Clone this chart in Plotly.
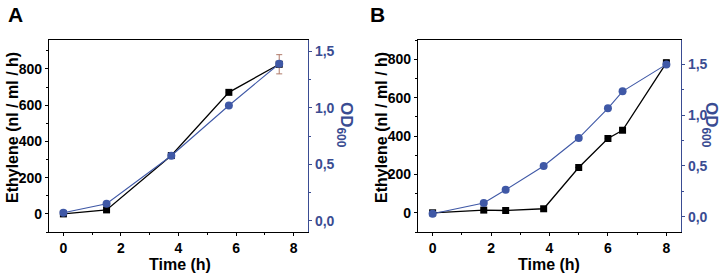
import plotly.graph_objects as go

# Panel A data
a_time_eth = [0, 1.5, 3.75, 5.75, 7.5]
a_eth = [0, 22, 322, 671, 826]
a_eth_err = [0, 0, 0, 0, 53]
a_time_od = [0, 1.5, 3.75, 5.75, 7.5]
a_od = [0.07, 0.15, 0.575, 1.02, 1.39]

# Panel B data
b_time_eth = [0, 1.75, 2.5, 3.8, 5.0, 6.0, 6.5, 8.0]
b_eth = [0, 14, 12, 21, 236, 387, 430, 781]
b_eth_err = [0, 0, 0, 0, 0, 0, 0, 15]
b_time_od = [0, 1.75, 2.5, 3.8, 5.0, 6.0, 6.5, 8.0]
b_od = [0.03, 0.135, 0.265, 0.5, 0.775, 1.068, 1.235, 1.5]

x_ticks = [0, 2, 4, 6, 8]
eth_ticks = [0, 200, 400, 600, 800]
od_ticks = [0.0, 0.5, 1.0, 1.5]
od_ticktext = ["0,0", "0,5", "1,0", "1,5"]

BLUE = "#3F58A6"
BLUE_AX = "#3A4C92"
FONT = "Liberation Sans, Arial, sans-serif"

fig = go.Figure()

def add_panel(tx_e, e, err, err_color, tx_o, o, xa, ya, ya2):
    fig.add_trace(go.Scatter(
        x=tx_e, y=e, mode="lines+markers", xaxis=xa, yaxis=ya,
        line=dict(color="black", width=1.3),
        marker=dict(symbol="square", size=7, color="black"),
        error_y=dict(type="data", array=err, visible=True, color=err_color,
                     thickness=1, width=3),
        showlegend=False))
    fig.add_trace(go.Scatter(
        x=tx_o, y=o, mode="lines+markers", xaxis=xa, yaxis=ya2,
        line=dict(color=BLUE, width=1.1),
        marker=dict(symbol="circle", size=8, color=BLUE),
        showlegend=False))

add_panel(a_time_eth, a_eth, a_eth_err, "#B07A6A", a_time_od, a_od, "x", "y", "y2")
add_panel(b_time_eth, b_eth, b_eth_err, "black", b_time_od, b_od, "x2", "y3", "y4")

W, H = 721, 274
def dx(p): return p / W
def dy(p): return 1 - p / H

tickfont = dict(family=FONT, size=14, color="black", weight="bold")
tickfont_b = dict(family=FONT, size=14, color=BLUE_AX, weight="bold")

def xaxis_cfg(l, r, anchor):
    return dict(domain=[dx(l), dx(r)], anchor=anchor, range=[-0.5, 8.5],
                tickvals=x_ticks, ticks="outside", ticklen=3, tickwidth=1,
                tickcolor="black", showline=True, linecolor="black", linewidth=1.3,
                mirror=True, showgrid=False, zeroline=False, tickfont=tickfont,
                minor=dict(dtick=1, tick0=0, ticks="outside", ticklen=2,
                           tickcolor="black", showgrid=False))

def yaxis_cfg(rng, anchor):
    return dict(domain=[dy(232), dy(40)], anchor=anchor, range=rng,
                tickvals=eth_ticks, ticks="outside", ticklen=3, tickwidth=1,
                tickcolor="black", showline=True, linecolor="black", linewidth=1.3,
                showgrid=False, zeroline=False, tickfont=tickfont,
                minor=dict(dtick=100, tick0=0, ticks="outside", ticklen=2,
                           tickcolor="black", showgrid=False))

def y2axis_cfg(rng, anchor, overlay):
    return dict(range=rng, anchor=anchor, overlaying=overlay, side="right",
                tickvals=od_ticks, ticktext=od_ticktext, ticks="outside",
                ticklen=3, tickwidth=1, tickcolor=BLUE_AX, showline=True,
                linecolor=BLUE_AX, linewidth=1.3, showgrid=False, zeroline=False,
                tickfont=tickfont_b,
                minor=dict(dtick=0.25, tick0=0, ticks="outside", ticklen=2,
                           tickcolor=BLUE_AX, showgrid=False))

fig.update_layout(
    width=W, height=H, margin=dict(l=0, r=0, t=0, b=0),
    paper_bgcolor="white", plot_bgcolor="white",
    font=dict(family=FONT),
    xaxis=xaxis_cfg(49, 308, "y"),
    yaxis=yaxis_cfg([-100, 960], "x"),
    yaxis2=y2axis_cfg([-0.1, 1.6], "x", "y"),
    xaxis2=xaxis_cfg(418, 681, "y3"),
    yaxis3=yaxis_cfg([-100, 900], "x2"),
    yaxis4=y2axis_cfg([-0.15, 1.74], "x2", "y3"),
)

def ann(text, x, y, size, color="black", angle=0):
    fig.add_annotation(text=text, x=dx(x), y=dy(y), xref="paper", yref="paper",
                       showarrow=False, textangle=angle, xanchor="center",
                       yanchor="middle",
                       font=dict(family=FONT, size=size, color=color, weight="bold"))

# Panel labels
ann("A", 15, 14, 21)
ann("B", 377, 14, 21)
# x titles
ann("Time (h)", 180, 264, 16)
ann("Time (h)", 549, 264, 16)
# left titles
ann("Ethylene (nl / ml / h)", 12, 128, 16, angle=-90)
ann("Ethylene (nl / ml / h)", 381, 128, 16, angle=-90)
# right titles
ann("OD<sub>600</sub>", 345, 125, 17, color=BLUE_AX, angle=90)
ann("OD<sub>600</sub>", 710, 125, 17, color=BLUE_AX, angle=90)

fig.write_html("out.html", config={"displayModeBar": False},
               post_script="document.body.style.margin='0';document.body.style.overflow='hidden';")
